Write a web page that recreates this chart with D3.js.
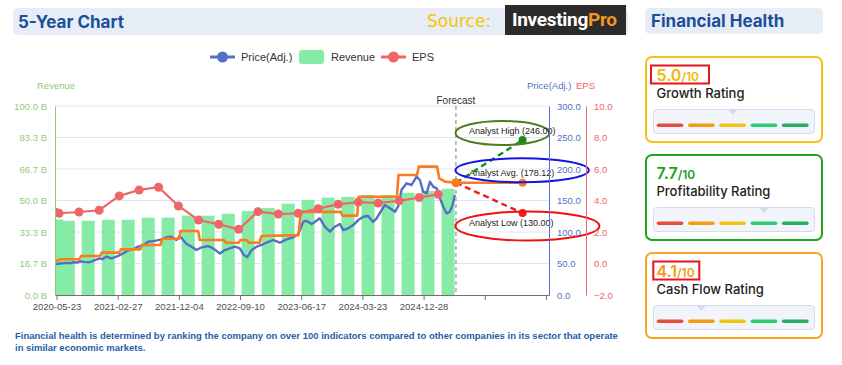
<!DOCTYPE html>
<html><head><meta charset="utf-8">
<script src="https://cdn.jsdelivr.net/npm/d3@7"></script>
<style>
body{margin:0;background:#fff;}
svg{display:block;font-family:"Liberation Sans",Arial,sans-serif;}
</style></head><body>
<svg id="c" width="842" height="365"></svg>
<script>
// ---------------- DATA ----------------
const revenueDates = ["2020-05-23","2020-07-16","2020-10-15","2021-01-15","2021-04-16","2021-07-17","2021-10-16","2022-01-16","2022-04-17","2022-07-18","2022-10-17","2023-01-17","2023-04-18","2023-07-18","2023-10-18","2024-01-17","2024-04-18","2024-07-18","2024-10-18","2025-01-17","2025-04-19"];
const revenueValues = [40.0,39.3,39.3,39.8,39.8,40.9,40.9,42.0,42.0,43.0,44.4,46.0,48.3,50.3,51.5,51.9,52.9,52.9,54.1,55.0,56.2];

const epsDates = ["2020-05-20","2020-06-04","2020-09-03","2020-12-04","2021-03-06","2021-06-05","2021-09-02","2021-12-02","2022-03-04","2022-06-04","2022-09-03","2022-12-01","2023-03-04","2023-06-03","2023-09-03","2023-12-03","2024-03-04","2024-06-03","2024-09-07","2024-12-08","2025-03-05"];
const epsValues = [3.25,3.19,3.27,3.38,4.29,4.67,4.84,3.65,2.76,2.49,2.17,3.29,3.14,3.19,3.48,3.76,3.90,3.84,3.98,4.19,4.39];

const priceDates = ["2020-05-20","2020-06-10","2020-07-08","2020-07-25","2020-08-07","2020-08-25","2020-09-07","2020-09-28","2020-10-22","2020-11-14","2020-12-07","2020-12-20","2021-01-07","2021-01-30","2021-02-15","2021-03-01","2021-03-24","2021-04-16","2021-05-09","2021-06-01","2021-06-23","2021-07-16","2021-08-16","2021-09-16","2021-10-09","2021-10-31","2021-11-23","2021-12-08","2021-12-21","2022-01-08","2022-01-31","2022-02-23","2022-03-18","2022-04-17","2022-05-10","2022-06-10","2022-07-02","2022-07-25","2022-08-17","2022-09-09","2022-09-27","2022-10-13","2022-11-02","2022-11-25","2022-12-17","2023-01-09","2023-02-09","2023-03-11","2023-04-11","2023-05-11","2023-06-01","2023-06-11","2023-06-26","2023-07-11","2023-08-03","2023-08-18","2023-09-10","2023-10-03","2023-10-26","2023-11-18","2023-12-11","2023-12-26","2024-01-18","2024-02-10","2024-03-04","2024-03-27","2024-04-18","2024-05-11","2024-05-27","2024-06-14","2024-07-04","2024-07-27","2024-08-19","2024-09-03","2024-09-18","2024-09-29","2024-10-11","2024-11-03","2024-11-26","2024-12-11","2024-12-26","2025-01-11","2025-01-26","2025-02-10","2025-02-26","2025-03-13","2025-03-28","2025-04-12","2025-04-27","2025-05-10","2025-05-20"];
const priceValues = [49,50,51,50.5,52,51.5,53.5,52.5,52,55.5,58,57,61,58,60,62,66,71,72.5,76.7,79,84.6,86,88.4,91.6,92.6,87.3,93.7,88.4,81,76.7,71.4,75.7,77.8,74,66,71.4,74,76.7,74,63.5,60,71.4,76.7,79.4,83,87.3,83,88.4,91.6,96,103,116,118,112.7,116,121.7,108.4,100.5,108.4,112.7,103,105.8,111,119,124.3,125.4,116,121.7,132,142.9,137.6,132,141,166.7,172,177.3,174.6,187.8,182.5,164,161.4,179.8,172,169.3,153.5,140,129.7,132,142.9,158.7];

const targetDates = ["2020-05-20","2020-06-01","2020-06-08","2020-09-05","2020-09-12","2020-12-08","2020-12-16","2021-03-06","2021-03-14","2021-06-10","2021-06-18","2021-09-10","2021-09-20","2021-12-05","2021-12-12","2022-03-02","2022-03-10","2022-06-28","2022-07-08","2022-09-05","2022-09-12","2022-10-10","2022-10-20","2022-12-08","2022-12-17","2023-06-05","2023-06-15","2023-12-15","2023-12-22","2024-02-28","2024-03-06","2024-08-28","2024-09-04","2024-11-28","2024-12-06","2025-02-28","2025-03-10","2025-04-05","2025-05-25"];
const targetValues = [54.5,54.5,56.7,56.7,61.9,61.9,67.2,67.2,72.5,72.5,79.4,79.4,89.4,89.4,101.6,101.6,87.3,87.3,83,83,87.3,87.3,83,83,93.7,95,132,132,126,126,156,156,190.5,190.5,203.7,203.7,185,180,178.12];

const forecastDate = "2025-05-25";
const targetDate = "2026-03-26";
const analystLabels = ["Analyst High","Analyst Avg.","Analyst Low"];
const analystValues = [246.00,178.12,130.00];

const xTickDates = ["2020-05-23","2021-02-27","2021-12-04","2022-09-10","2023-06-17","2024-03-23","2024-12-28","2025-10-04","2026-07-11"];
const xTickLabels = ["2020-05-23","2021-02-27","2021-12-04","2022-09-10","2023-06-17","2024-03-23","2024-12-28","",""];
const revTicks = [0,16.667,33.333,50,66.667,83.333,100];
const priceTicks = [0,50,100,150,200,250,300];
const epsTicks = [-2,0,2,4,6,8,10];

const legendNames = ["Price(Adj.)","Revenue","EPS"];
const ratingNames = ["Growth Rating","Profitability Rating","Cash Flow Rating"];
const ratingScores = [5.0,7.7,4.1];

// ---------------- SETUP ----------------
const svg = d3.select("#c");
const parse = d3.timeParse("%Y-%m-%d");
const L = 55, R = 549, T = 106, B = 295;
const C = {blue:"#5470c6", green:"#91cc75", red:"#ee6666", orange:"#fb7c1c", bar:"#86eba7", grid:"#e0e6f1", axis:"#6e7079"};

const x = d3.scaleTime().domain([parse("2020-05-16"), parse("2026-07-25")]).range([L,R]);
const yRev = d3.scaleLinear().domain([0,100]).range([B,T]);
const yPrice = d3.scaleLinear().domain([0,300]).range([B,T]);
const yEps = d3.scaleLinear().domain([-2,10]).range([B,T]);

// header
svg.append("rect").attr("x",13).attr("y",8).attr("width",615).attr("height",27).attr("rx",5).attr("fill","#e6edf6");
svg.append("text").attr("x",18).attr("y",28).text("5-Year Chart")
  .style("font-family","Inter, 'Open Sans', sans-serif").style("font-weight",700).style("font-size","17px").attr("fill","#1b4f9b");
svg.append("text").attr("x",427).attr("y",27).text("Source:")
  .style("font-family","'DejaVu Sans', sans-serif").style("font-size","17px").attr("fill","#f6c400");
svg.append("rect").attr("x",505).attr("y",5).attr("width",121).attr("height",30).attr("fill","#2b2b2b");
const logo = svg.append("text").attr("x",512).attr("y",26)
  .style("font-family","Roboto, sans-serif").style("font-weight",700).style("font-size","19px").style("letter-spacing","-0.3px");
logo.append("tspan").attr("fill","#ffffff").text("Investing");
logo.append("tspan").attr("fill","#f7931e").text("Pro");

// legend
const lg = svg.append("g").style("font-size","11px").attr("fill","#333");
lg.append("line").attr("x1",210).attr("x2",235).attr("y1",57).attr("y2",57).attr("stroke",C.blue).attr("stroke-width",3);
lg.append("circle").attr("cx",222.5).attr("cy",57).attr("r",5.5).attr("fill",C.blue);
lg.append("text").attr("x",241).attr("y",61).text(legendNames[0]);
lg.append("rect").attr("x",299).attr("y",50).attr("width",25).attr("height",14).attr("rx",3).attr("fill",C.bar);
lg.append("text").attr("x",331).attr("y",61).text(legendNames[1]);
lg.append("line").attr("x1",381).attr("x2",406).attr("y1",57).attr("y2",57).attr("stroke",C.red).attr("stroke-width",3);
lg.append("circle").attr("cx",393.5).attr("cy",57).attr("r",5.5).attr("fill",C.red);
lg.append("text").attr("x",412).attr("y",61).text(legendNames[2]);

// axis titles
const at = svg.append("g").style("font-size","9.5px");
at.append("text").attr("x",37).attr("y",89).attr("fill",C.green).text("Revenue");
at.append("text").attr("x",527).attr("y",89).attr("fill",C.blue).text("Price(Adj.)");
at.append("text").attr("x",576).attr("y",89).attr("fill",C.red).text("EPS");

// grid
svg.append("g").selectAll("line").data(revTicks.slice(1)).join("line")
  .attr("x1",L).attr("x2",R).attr("y1",d=>yRev(d)).attr("y2",d=>yRev(d)).attr("stroke",C.grid);

// clip
svg.append("clipPath").attr("id","plot").append("rect").attr("x",L).attr("y",T-20).attr("width",R-L).attr("height",B-T+20);
const plot = svg.append("g").attr("clip-path","url(#plot)");

// bars
const barW = 13;
plot.append("g").selectAll("rect").data(revenueDates.map((d,i)=>({d:parse(d),v:revenueValues[i]}))).join("rect")
  .attr("x",d=>x(d.d)-barW/2).attr("width",barW).attr("y",d=>yRev(d.v)).attr("height",d=>B-yRev(d.v)).attr("fill",C.bar);

// price line
const priceData = priceDates.map((d,i)=>({d:parse(d),v:priceValues[i]}));
plot.append("path").datum(priceData).attr("fill","none").attr("stroke",C.blue).attr("stroke-width",2.4).attr("stroke-linejoin","round")
  .attr("d",d3.line().x(d=>x(d.d)).y(d=>yPrice(d.v)));

// target history line
const targetData = targetDates.map((d,i)=>({d:parse(d),v:targetValues[i]}));
plot.append("path").datum(targetData).attr("fill","none").attr("stroke",C.orange).attr("stroke-width",2.6).attr("stroke-linejoin","round")
  .attr("d",d3.line().x(d=>x(d.d)).y(d=>yPrice(d.v)));

// EPS
const epsData = epsDates.map((d,i)=>({d:parse(d),v:epsValues[i]}));
plot.append("path").datum(epsData).attr("fill","none").attr("stroke",C.red).attr("stroke-width",2.2)
  .attr("d",d3.line().x(d=>x(d.d)).y(d=>yEps(d.v)));
plot.append("g").selectAll("circle").data(epsData).join("circle")
  .attr("cx",d=>x(d.d)).attr("cy",d=>yEps(d.v)).attr("r",4.5).attr("fill",C.red);

// forecast line
const fx = x(parse(forecastDate)), tx = x(parse(targetDate));
svg.append("line").attr("x1",fx).attr("x2",fx).attr("y1",T).attr("y2",B).attr("stroke","#aaa").attr("stroke-width",1.5).attr("stroke-dasharray","4,3");
svg.append("text").attr("x",fx).attr("y",104).attr("text-anchor","middle").style("font-size","10px").attr("fill","#333").text("Forecast");

// projections
const startV = targetValues[targetValues.length-1];
const projColors = ["#1a8c1a", C.orange, "#ee1c1c"];
analystValues.forEach((v,i)=>{
  const ln = svg.append("line").attr("x1",fx).attr("y1",yPrice(startV)).attr("x2",tx).attr("y2",yPrice(v))
    .attr("stroke",projColors[i]).attr("stroke-width",2.4);
  if(i!==1) ln.attr("stroke-dasharray","6,4");
  svg.append("circle").attr("cx",tx).attr("cy",yPrice(v)).attr("r",4).attr("fill",projColors[i]);
});
svg.append("circle").attr("cx",fx).attr("cy",yPrice(startV)).attr("r",4.5).attr("fill",C.orange);

// annotation ellipses
const ellColors = ["#4e7d26","#1515e6","#ee1111"];
const ellR = [[47,12],[66.7,12],[72,14.5]];
const ellDy = [-7,-12.5,13];
const txtDy = [-6.5,-7,13];
analystValues.forEach((v,i)=>{
  const cy = yPrice(v)+ellDy[i];
  svg.append("ellipse").attr("cx",fx-0.5+ellR[i][0]).attr("cy",cy).attr("rx",ellR[i][0]).attr("ry",ellR[i][1])
    .attr("fill","none").attr("stroke",ellColors[i]).attr("stroke-width",2);
  svg.append("text").attr("x",fx+13).attr("y",yPrice(v)+txtDy[i]).style("font-size","9px").attr("fill","#222")
    .text(`${analystLabels[i]} (${v.toFixed(2)})`);
});

// axes
function styleAxis(g,color,fs){
  g.select(".domain").attr("stroke",color);
  g.selectAll("text").attr("fill",color).style("font-size",fs).style("font-family","'Liberation Sans', Arial, sans-serif");
}
svg.append("g").attr("transform",`translate(${L},0)`)
  .call(d3.axisLeft(yRev).tickValues(revTicks).tickSize(0).tickSizeOuter(0).tickPadding(8).tickFormat(d=>d3.format(".1f")(d)+" B"))
  .call(g=>styleAxis(g,C.green,"9.5px"));
svg.append("g").attr("transform",`translate(${R},0)`)
  .call(d3.axisRight(yPrice).tickValues(priceTicks).tickSize(0).tickSizeOuter(0).tickPadding(8).tickFormat(d3.format(".1f")))
  .call(g=>styleAxis(g,C.blue,"9.5px"));
svg.append("g").attr("transform",`translate(586,0)`)
  .call(d3.axisRight(yEps).tickValues(epsTicks).tickSize(0).tickSizeOuter(0).tickPadding(8).tickFormat(d3.format(".1f")))
  .call(g=>styleAxis(g,C.red,"9.5px"));
svg.append("g").attr("transform",`translate(0,${B})`)
  .call(d3.axisBottom(x).tickValues(xTickDates.map(parse)).tickSize(5).tickSizeOuter(0).tickPadding(3)
    .tickFormat((d,i)=>xTickLabels[i]))
  .call(g=>{g.select(".domain").attr("stroke",C.axis); g.selectAll(".tick line").attr("stroke",C.axis);
    g.selectAll("text").attr("fill","#4a4f5c").style("font-size","9.5px").style("font-family","'Liberation Sans', Arial, sans-serif");});

// bottom note
const note = svg.append("g").style("font-size","9.5px").style("font-weight",700).attr("fill","#2a5ca8");
note.append("text").attr("x",15).attr("y",339).text("Financial health is determined by ranking the company on over 100 indicators compared to other companies in its sector that operate");
note.append("text").attr("x",15).attr("y",351).text("in similar economic markets.");

// ---------------- FINANCIAL HEALTH PANEL ----------------
svg.append("rect").attr("x",645).attr("y",8).attr("width",178).attr("height",26).attr("rx",5).attr("fill","#e6edf6");
svg.append("text").attr("x",651).attr("y",27).text("Financial Health")
  .style("font-family","Inter, 'Open Sans', sans-serif").style("font-weight",700).style("font-size","17px").attr("fill","#1b4f9b");

const segColors = ["#e74c3c","#f39c12","#f1c40f","#2ecc71","#27ae60"];
const bucket = d3.scaleThreshold().domain([2.5,4.5,6.5,8.5]).range([0,1,2,3,4]);
const cardColors = ["#f5c211","#1ea51e","#f5a623"];
const scoreColors = ["#f2b900","#1e9e1e","#f59a16"];
const cardTops = [56,154,252];
const highlight = [[6,58],null,[8.3,46]];
ratingScores.forEach((s,i)=>{
  const g = svg.append("g").attr("transform",`translate(645,${cardTops[i]})`).style("font-family","Inter, 'Open Sans', sans-serif");
  g.append("rect").attr("x",1).attr("y",1).attr("width",176).attr("height",85).attr("rx",6).attr("fill","#fff").attr("stroke",cardColors[i]).attr("stroke-width",2);
  const t = g.append("text").attr("x",11.5).attr("y",25).attr("fill",scoreColors[i]).style("font-weight",600);
  t.append("tspan").style("font-size","16px").text(s.toFixed(1));
  t.append("tspan").style("font-size","12px").text("/10");
  if(highlight[i]) g.append("rect").attr("x",highlight[i][0]).attr("y",9.5).attr("width",highlight[i][1]).attr("height",18)
    .attr("fill","none").attr("stroke","#e8141b").attr("stroke-width",2);
  g.append("text").attr("x",11.5).attr("y",42).attr("fill","#222").style("font-size","13px").style("font-weight",500).text(ratingNames[i]);
  g.append("rect").attr("x",8.5).attr("y",53.5).attr("width",161).attr("height",24).attr("rx",3).attr("fill","#f1f5fb").attr("stroke","#d3dcea");
  segColors.forEach((c,k)=>{
    g.append("rect").attr("x",11.7+k*31.3).attr("y",67.5).attr("width",26.7).attr("height",3.6).attr("rx",1.8).attr("fill",c);
  });
  const pc = 11.7+bucket(s)*31.3+13.35;
  g.append("path").attr("d",`M${pc-4.5},54 L${pc+4.5},54 L${pc},59 Z`).attr("fill","#d3dcea");
});
</script>
</body></html>
